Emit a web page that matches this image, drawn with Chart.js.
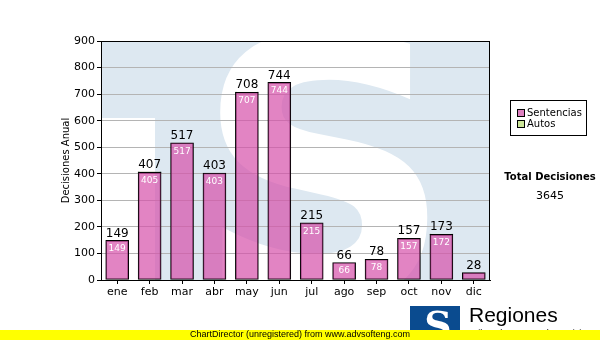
<!DOCTYPE html>
<html>
<head>
<meta charset="utf-8">
<script src="https://cdn.jsdelivr.net/npm/chart.js@4/dist/chart.umd.min.js"></script>
<style>
  html, body { margin: 0; padding: 0; background: #fff; }
  #wrap { width: 600px; height: 340px; position: relative; }
</style>
</head>
<body>
<div id="wrap"><canvas id="decisiones" width="600" height="340"></canvas></div>
<script>
const MESES = ['ene', 'feb', 'mar', 'abr', 'may', 'jun', 'jul', 'ago', 'sep', 'oct', 'nov', 'dic'];
const sentencias = [149, 405, 517, 403, 707, 744, 215, 66, 78, 157, 172, 28];
const autos = [0, 2, 0, 0, 1, 0, 0, 0, 0, 0, 1, 0];

const totales = MESES.map((m, i) => sentencias[i] + autos[i]);
const totalDecisiones = totales.reduce((a, b) => a + b, 0);

const FONT = 'DejaVu Sans, Verdana, sans-serif';

// fondo del area de trazado con la marca de agua "S"
const marcaAgua = {
    id: 'marcaAgua',
    beforeDraw(chart) {
        const { ctx, chartArea: a } = chart;
        ctx.save();
        ctx.beginPath();
        ctx.rect(a.left, a.top, a.right - a.left, a.bottom - a.top);
        ctx.clip();
        ctx.fillStyle = '#dde8f1';
        ctx.fillRect(a.left, a.top, a.right - a.left, a.bottom - a.top);
        ctx.fillStyle = '#fff';
        ctx.fillRect(a.left, a.top + 77, 54, a.bottom - a.top);
        ctx.font = 'bold 360px DejaVu Sans, sans-serif';
        ctx.textAlign = 'center';
        ctx.textBaseline = 'alphabetic';
        ctx.fillText('S', 324, 298);
        ctx.restore();
    }
};

// marco, etiquetas de valor, leyenda, total y pie
const extras = {
    id: 'extras',
    afterDatasetsDraw(chart) {
        const { ctx, chartArea: a } = chart;
        ctx.save();
        ctx.strokeStyle = '#000';
        ctx.lineWidth = 1;
        ctx.strokeRect(a.left + 0.5, a.top + 0.5, a.right - a.left - 1, a.bottom - a.top);

        const metaS = chart.getDatasetMeta(0);
        const metaA = chart.getDatasetMeta(1);
        ctx.textAlign = 'center';
        metaS.data.forEach((bar, i) => {
            if (bar.base - bar.y > 14) {
                ctx.fillStyle = '#fff';
                ctx.font = '9px ' + FONT;
                ctx.textBaseline = 'top';
                ctx.fillText(sentencias[i], bar.x, bar.y + 4);
            }
            const top = Math.min(bar.y, metaA.data[i].y);
            ctx.fillStyle = '#000';
            ctx.font = '12px ' + FONT;
            ctx.textBaseline = 'bottom';
            ctx.fillText(totales[i], bar.x, top - 1);
        });
        ctx.restore();
    },
    afterDraw(chart) {
        const { ctx } = chart;
        ctx.save();
        // leyenda
        ctx.strokeStyle = '#000';
        ctx.lineWidth = 1;
        ctx.strokeRect(510.5, 100.5, 76, 35);
        ctx.font = '10px ' + FONT;
        ctx.textAlign = 'left';
        ctx.textBaseline = 'middle';
        [['Sentencias', '#dd80c0'], ['Autos', '#cce699']].forEach((it, i) => {
            const y = 113 + i * 11;
            ctx.fillStyle = it[1];
            ctx.fillRect(517.5, y - 3.5, 7, 7);
            ctx.strokeRect(517.5, y - 3.5, 7, 7);
            ctx.fillStyle = '#000';
            ctx.fillText(it[0], 527, y);
        });

        // total
        ctx.textAlign = 'center';
        ctx.font = 'bold 10px ' + FONT;
        ctx.fillText('Total Decisiones', 550, 177);
        ctx.font = '11px ' + FONT;
        ctx.fillText(String(totalDecisiones), 550, 196);

        // logo
        ctx.fillStyle = '#0a4b8f';
        ctx.fillRect(410, 306, 50, 30);
        ctx.fillStyle = '#fff';
        ctx.font = 'bold 38px DejaVu Serif, serif';
        ctx.textAlign = 'center';
        ctx.textBaseline = 'alphabetic';
        ctx.fillText('S', 438, 338);
        ctx.fillStyle = '#0a4b8f';
        ctx.fillRect(410, 306, 14, 8);
        ctx.fillStyle = '#000';
        ctx.textAlign = 'left';
        ctx.textBaseline = 'middle';
        ctx.font = '21px Liberation Sans, Arial, sans-serif';
        ctx.fillText('Regiones', 469, 316);
        ctx.font = '9px Liberation Sans, Arial, sans-serif';
        ctx.fillText('Tribunal Supremo de Justicia', 470, 334);

        // franja inferior
        ctx.fillStyle = '#ffff00';
        ctx.fillRect(0, 330, 600, 10);
        ctx.fillStyle = '#000';
        ctx.textAlign = 'center';
        ctx.font = '9px Liberation Sans, Arial, sans-serif';
        ctx.fillText('ChartDirector (unregistered) from www.advsofteng.com', 300, 335);
        ctx.restore();
    }
};

new Chart(document.getElementById('decisiones'), {
    type: 'bar',
    data: {
        labels: MESES,
        datasets: [
            {
                label: 'Sentencias',
                data: sentencias,
                backgroundColor: 'rgba(214, 80, 170, 0.7)',
                borderColor: '#000',
                borderWidth: 1,
                borderSkipped: false,
                barThickness: 23
            },
            {
                label: 'Autos',
                data: autos,
                backgroundColor: '#cce699',
                borderColor: '#000',
                borderWidth: 1,
                borderSkipped: false,
                barThickness: 23
            }
        ]
    },
    options: {
        responsive: false,
        animation: false,
        layout: { padding: { left: 60, right: 110, top: 41, bottom: 40 } },
        plugins: {
            legend: { display: false },
            tooltip: { enabled: false }
        },
        scales: {
            x: {
                stacked: true,
                afterFit: s => { s.height = 20; },
                grid: { offset: false, drawOnChartArea: false, color: '#000', tickLength: 4 },
                border: { color: '#000' },
                ticks: { color: '#000', font: { family: FONT, size: 11 }, padding: 2 }
            },
            y: {
                stacked: true,
                min: 0,
                max: 900,
                afterFit: s => { s.width = 41; },
                grid: {
                    color: ctx => ctx.tick && ctx.tick.value === 0 ? 'rgba(0,0,0,0)' : '#b4b4b4',
                    tickColor: '#000',
                    tickLength: 4
                },
                border: { color: '#000' },
                title: {
                    display: true,
                    text: 'Decisiones Anual',
                    color: '#000',
                    font: { family: FONT, size: 10 },
                    padding: 0
                },
                ticks: { stepSize: 100, color: '#000', font: { family: FONT, size: 11 }, padding: 2 }
            }
        }
    },
    plugins: [marcaAgua, extras]
});
</script>
</body>
</html>
